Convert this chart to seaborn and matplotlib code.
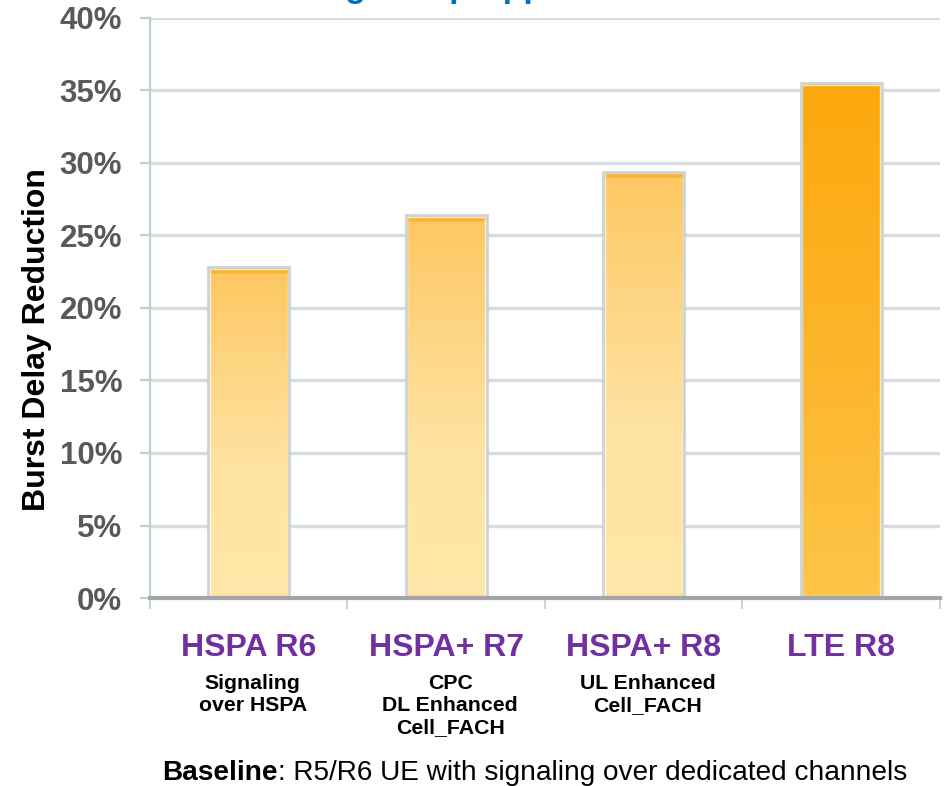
import numpy as np
import pandas as pd
import matplotlib
matplotlib.use("Agg")
import matplotlib.pyplot as plt
import matplotlib.transforms as mtransforms
from matplotlib.colors import to_rgb
from matplotlib.patches import Rectangle
import seaborn as sns

# ---- data -------------------------------------------------------------
technologies = ["HSPA R6", "HSPA+ R7", "HSPA+ R8", "LTE R8"]
features = ["Signaling\nover HSPA", "CPC\nDL Enhanced\nCell_FACH", "UL Enhanced\nCell_FACH", ""]
delay_reduction = [22.8, 26.4, 29.4, 35.5]          # percent
y_ticks = [0, 5, 10, 15, 20, 25, 30, 35, 40]
y_tick_labels = [f"{v}%" for v in y_ticks]

# ---- style ------------------------------------------------------------
sns.set_style("white")
plt.rcParams["font.family"] = ["Liberation Sans", "DejaVu Sans"]

W, H = 945, 786
fig = plt.figure(figsize=(W / 100, H / 100), dpi=100)
ax = fig.add_axes([150 / W, 188 / H, 790 / W, 580 / H])

df = pd.DataFrame({"tech": technologies, "reduction": delay_reduction})
sns.barplot(data=df, x="tech", y="reduction", width=0.41, color="white",
            saturation=1, edgecolor="none", linewidth=0, ax=ax, zorder=3)

ax.set_xlim(-0.5, 3.5)
ax.set_ylim(0, 40)

# gradient fills for the bars
def gradient(stops, n=600):
    fr = np.linspace(0, 1, n)
    pos = [p for p, _ in stops]
    cols = np.array([to_rgb(c) for _, c in stops])
    img = np.stack([np.interp(fr, pos, cols[:, k]) for k in range(3)], axis=-1)
    return img[:, None, :]

light_stops = lambda h: [
    (0.0, "#FDD57E"), (0.012, "#FFE6A8"), (0.38, "#FFE3A2"),
    (0.66, "#FED788"), (1 - 0.45 / h, "#FDC862"),
    (1 - 0.40 / h, "#F9B42C"), (1.0, "#F9B42C")]
strong_stops = lambda h: [
    (0.0, "#FDC548"), (0.45, "#FDB62C"), (1.0, "#FCA80C")]

for i, patch in enumerate(ax.patches):
    x0, w, h = patch.get_x(), patch.get_width(), patch.get_height()
    stops = strong_stops(h) if i == 3 else light_stops(h)
    im = ax.imshow(gradient(stops), extent=[x0, x0 + w, 0, h], origin="lower",
                   aspect="auto", zorder=4, interpolation="bilinear")
    im.set_clip_path(patch)
    dx, dy = 0.008, 0.11
    ax.add_patch(Rectangle((x0 + dx, dy), w - 2 * dx, h - 2 * dy, fill=False,
                           edgecolor="white", lw=1.0, alpha=0.7, zorder=5))
    ax.add_patch(Rectangle((x0, 0), w, h, fill=False, edgecolor="#CCD4D7",
                           lw=2.0, zorder=6))

# axes, grid, ticks
ax.set_axisbelow(True)
ax.yaxis.grid(True, color="#D5DCDE", lw=2.4)
ax.xaxis.grid(False)
for s in ["top", "right"]:
    ax.spines[s].set_visible(False)
ax.spines["left"].set_color("#BCD0D4")
ax.spines["left"].set_linewidth(1.6)
ax.spines["bottom"].set_color("#A3A6A8")
ax.spines["bottom"].set_linewidth(3)
ax.spines["bottom"].set_zorder(7)

ax.set_yticks(y_ticks)
ax.set_yticklabels(y_tick_labels, fontsize=22.5, fontweight="bold", color="#595959")
ax.tick_params(axis="y", length=7, width=1.6, color="#BCD0D4", pad=13, left=True)

ax.set_xticks(range(len(technologies)))
ax.set_xticklabels(technologies, fontsize=23, fontweight="bold", color="#7030A0")
ax.tick_params(axis="x", length=0, pad=25)
ax.set_xticks([-0.5, 0.5, 1.5, 2.5, 3.5], minor=True)
ax.tick_params(axis="x", which="minor", length=8, width=1.5, color="#C9D5D8",
               bottom=True)
ax.set_xlabel("")

ax.set_ylabel("Burst Delay Reduction", fontsize=23, fontweight="bold", color="black")
ax.yaxis.set_label_coords(-0.124, 0.445)

# feature notes under each technology
trans = mtransforms.blended_transform_factory(ax.transData, ax.transAxes)
for i, note in enumerate(features):
    if note:
        ax.text(i + 0.02, -0.131, note, transform=trans, ha="center", va="top",
                fontsize=15.3, fontweight="bold", color="black", linespacing=1.2)

# title (runs off the top edge)
fig.text(211 / W, 1 + 3 / H, "Reducing Setup Apps", fontsize=24.5,
         fontweight="bold", color="#0070C0", ha="left", va="baseline")

# baseline footnote: bold lead-in followed by regular text
fig.canvas.draw()
renderer = fig.canvas.get_renderer()
lead = fig.text(162 / W, 6 / H, "Baseline", fontsize=20.2, fontweight="bold",
                color="black", ha="left", va="baseline")
bb = lead.get_window_extent(renderer)
fig.text(bb.x1 / W, 6 / H, ": R5/R6 UE with signaling over dedicated channels",
         fontsize=20.2, color="black", ha="left", va="baseline")

fig.savefig("out.png", dpi=100)
